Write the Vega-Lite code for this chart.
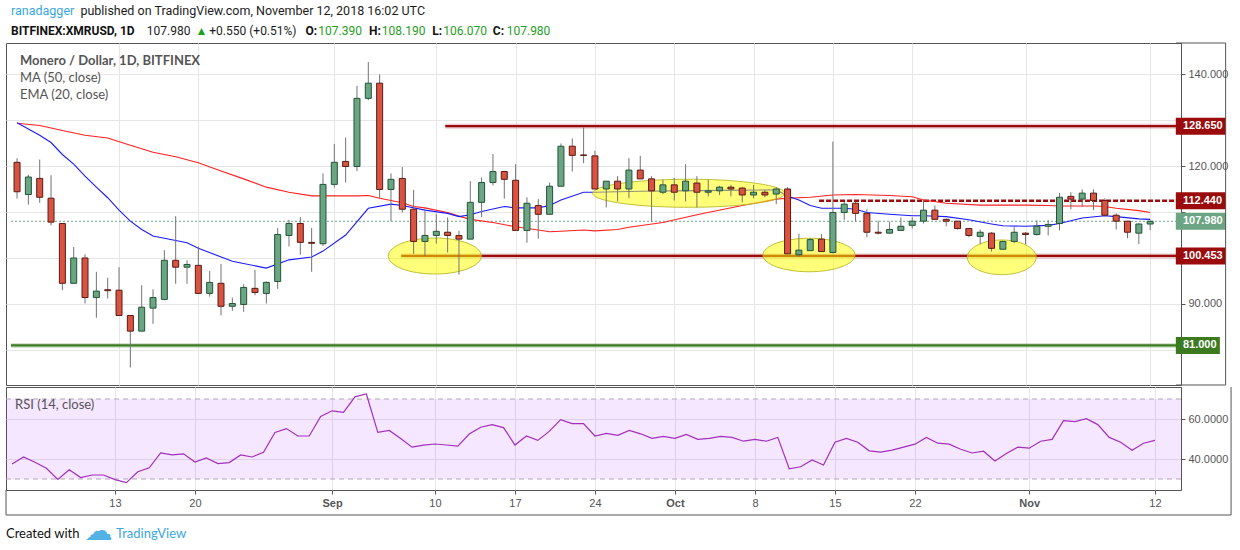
{
  "$schema": "https://vega.github.io/schema/vega-lite/v6.json",
  "background": "white",
  "padding": {"left": 5, "top": 4, "right": 0, "bottom": 0},
  "spacing": 0,
  "config": {
    "view": {"stroke": "#555555", "strokeWidth": 1},
    "axis": {"labelFont": "Liberation Sans", "labelFontSize": 11, "labelColor": "#555555", "tickColor": "#555555", "domainColor": "#555555", "gridColor": "#e6e6e6"},
    "text": {"font": "Lato"}
  },
  "datasets": {
    "candles": [
      {"d": "2018-08-04", "o": 120.8, "h": 121.7, "l": 112.9, "c": 114.4, "r": 37.5},
      {"d": "2018-08-05", "o": 113.8, "h": 118.1, "l": 111.6, "c": 117.6, "r": 41.0},
      {"d": "2018-08-06", "o": 117.3, "h": 121.4, "l": 112.0, "c": 113.2, "r": 38.4},
      {"d": "2018-08-07", "o": 113.0, "h": 118.0, "l": 107.1, "c": 107.8, "r": 35.4},
      {"d": "2018-08-08", "o": 107.5, "h": 107.5, "l": 93.0, "c": 94.5, "r": 29.8},
      {"d": "2018-08-09", "o": 94.5, "h": 102.4, "l": 94.5, "c": 100.0, "r": 34.6},
      {"d": "2018-08-10", "o": 100.0, "h": 100.8, "l": 90.1, "c": 91.4, "r": 30.7},
      {"d": "2018-08-11", "o": 91.4, "h": 97.0, "l": 87.0, "c": 92.8, "r": 32.0},
      {"d": "2018-08-12", "o": 93.1, "h": 95.7, "l": 91.2, "c": 92.9, "r": 32.0},
      {"d": "2018-08-13", "o": 93.0, "h": 98.0, "l": 87.5, "c": 87.5, "r": 29.7},
      {"d": "2018-08-14", "o": 87.5, "h": 87.5, "l": 76.2, "c": 84.1, "r": 28.2},
      {"d": "2018-08-15", "o": 84.1, "h": 94.1, "l": 84.1, "c": 89.3, "r": 33.6},
      {"d": "2018-08-16", "o": 89.1, "h": 93.2, "l": 85.7, "c": 91.4, "r": 35.6},
      {"d": "2018-08-17", "o": 91.0, "h": 101.7, "l": 90.8, "c": 99.5, "r": 43.1},
      {"d": "2018-08-18", "o": 99.5, "h": 109.1, "l": 94.4, "c": 98.0, "r": 42.1},
      {"d": "2018-08-19", "o": 98.0, "h": 99.5, "l": 94.4, "c": 98.6, "r": 42.6},
      {"d": "2018-08-20", "o": 98.4, "h": 102.5, "l": 92.3, "c": 92.3, "r": 38.5},
      {"d": "2018-08-21", "o": 92.3, "h": 97.2, "l": 91.6, "c": 94.7, "r": 40.5},
      {"d": "2018-08-22", "o": 94.5, "h": 98.7, "l": 87.5, "c": 89.5, "r": 37.7},
      {"d": "2018-08-23", "o": 89.5, "h": 91.4, "l": 88.5, "c": 90.1, "r": 38.2},
      {"d": "2018-08-24", "o": 89.9, "h": 94.3, "l": 88.3, "c": 93.6, "r": 42.0},
      {"d": "2018-08-25", "o": 93.4, "h": 97.4, "l": 91.9, "c": 92.5, "r": 41.0},
      {"d": "2018-08-26", "o": 92.3, "h": 94.9, "l": 90.1, "c": 94.7, "r": 43.4},
      {"d": "2018-08-27", "o": 94.9, "h": 106.5, "l": 93.3, "c": 105.1, "r": 53.3},
      {"d": "2018-08-28", "o": 104.9, "h": 108.3, "l": 102.5, "c": 107.5, "r": 55.2},
      {"d": "2018-08-29", "o": 107.5, "h": 108.9, "l": 100.7, "c": 103.4, "r": 51.5},
      {"d": "2018-08-30", "o": 103.4, "h": 106.5, "l": 97.0, "c": 103.2, "r": 51.5},
      {"d": "2018-08-31", "o": 103.1, "h": 118.4, "l": 102.6, "c": 116.0, "r": 61.3},
      {"d": "2018-09-01", "o": 116.0, "h": 124.8, "l": 115.3, "c": 120.8, "r": 64.1},
      {"d": "2018-09-02", "o": 121.0, "h": 126.2, "l": 116.4, "c": 119.9, "r": 63.3},
      {"d": "2018-09-03", "o": 119.9, "h": 137.4, "l": 118.9, "c": 134.7, "r": 71.1},
      {"d": "2018-09-04", "o": 134.7, "h": 142.6, "l": 134.3, "c": 138.0, "r": 72.5},
      {"d": "2018-09-05", "o": 138.0, "h": 139.9, "l": 113.0, "c": 114.9, "r": 53.3},
      {"d": "2018-09-06", "o": 114.9, "h": 118.4, "l": 108.0, "c": 117.1, "r": 54.3},
      {"d": "2018-09-07", "o": 117.3, "h": 119.8, "l": 109.9, "c": 110.6, "r": 50.2},
      {"d": "2018-09-08", "o": 110.6, "h": 114.8, "l": 100.9, "c": 103.6, "r": 45.9},
      {"d": "2018-09-09", "o": 103.6, "h": 110.8, "l": 100.4, "c": 104.9, "r": 46.9},
      {"d": "2018-09-10", "o": 104.9, "h": 109.6, "l": 103.1, "c": 105.8, "r": 47.5},
      {"d": "2018-09-11", "o": 105.6, "h": 108.8, "l": 101.2, "c": 104.9, "r": 47.0},
      {"d": "2018-09-12", "o": 104.9, "h": 105.9, "l": 96.4, "c": 104.1, "r": 46.4},
      {"d": "2018-09-13", "o": 104.1, "h": 116.7, "l": 104.1, "c": 112.1, "r": 52.5},
      {"d": "2018-09-14", "o": 112.1, "h": 117.5, "l": 108.9, "c": 116.4, "r": 55.9},
      {"d": "2018-09-15", "o": 116.4, "h": 122.6, "l": 115.8, "c": 118.8, "r": 57.2},
      {"d": "2018-09-16", "o": 118.8, "h": 118.8, "l": 112.9, "c": 117.1, "r": 55.7},
      {"d": "2018-09-17", "o": 116.9, "h": 120.4, "l": 106.0, "c": 106.0, "r": 47.0},
      {"d": "2018-09-18", "o": 106.0, "h": 113.2, "l": 103.3, "c": 111.9, "r": 51.5},
      {"d": "2018-09-19", "o": 111.4, "h": 112.8, "l": 104.2, "c": 109.5, "r": 49.3},
      {"d": "2018-09-20", "o": 109.5, "h": 116.4, "l": 109.5, "c": 115.6, "r": 53.8},
      {"d": "2018-09-21", "o": 115.6, "h": 124.9, "l": 115.6, "c": 124.3, "r": 59.7},
      {"d": "2018-09-22", "o": 124.3, "h": 126.0, "l": 118.8, "c": 122.3, "r": 57.7},
      {"d": "2018-09-23", "o": 122.4, "h": 128.4, "l": 120.6, "c": 122.3, "r": 57.7},
      {"d": "2018-09-24", "o": 122.2, "h": 123.3, "l": 115.0, "c": 115.0, "r": 51.5},
      {"d": "2018-09-25", "o": 115.0, "h": 116.7, "l": 111.0, "c": 116.7, "r": 52.8},
      {"d": "2018-09-26", "o": 116.7, "h": 117.8, "l": 112.3, "c": 115.0, "r": 51.8},
      {"d": "2018-09-27", "o": 115.0, "h": 121.7, "l": 113.0, "c": 119.1, "r": 54.3},
      {"d": "2018-09-28", "o": 119.1, "h": 122.2, "l": 117.2, "c": 117.2, "r": 52.6},
      {"d": "2018-09-29", "o": 117.2, "h": 117.8, "l": 108.0, "c": 114.6, "r": 50.3},
      {"d": "2018-09-30", "o": 114.3, "h": 117.0, "l": 113.9, "c": 115.9, "r": 51.3},
      {"d": "2018-10-01", "o": 115.9, "h": 117.4, "l": 112.5, "c": 114.3, "r": 50.3},
      {"d": "2018-10-02", "o": 114.6, "h": 120.4, "l": 112.3, "c": 116.7, "r": 52.3},
      {"d": "2018-10-03", "o": 116.3, "h": 117.8, "l": 111.0, "c": 114.3, "r": 49.8},
      {"d": "2018-10-04", "o": 114.3, "h": 117.0, "l": 113.4, "c": 114.6, "r": 50.3},
      {"d": "2018-10-05", "o": 114.6, "h": 115.7, "l": 113.7, "c": 115.4, "r": 51.3},
      {"d": "2018-10-06", "o": 115.4, "h": 115.9, "l": 113.4, "c": 115.0, "r": 50.8},
      {"d": "2018-10-07", "o": 115.2, "h": 115.4, "l": 112.1, "c": 113.7, "r": 48.9},
      {"d": "2018-10-08", "o": 113.7, "h": 115.9, "l": 113.0, "c": 114.3, "r": 49.8},
      {"d": "2018-10-09", "o": 114.3, "h": 114.8, "l": 113.2, "c": 113.7, "r": 48.9},
      {"d": "2018-10-10", "o": 113.9, "h": 115.4, "l": 111.7, "c": 115.0, "r": 50.8},
      {"d": "2018-10-11", "o": 115.0, "h": 115.4, "l": 100.9, "c": 100.9, "r": 35.1},
      {"d": "2018-10-12", "o": 100.7, "h": 105.3, "l": 100.2, "c": 101.7, "r": 36.1},
      {"d": "2018-10-13", "o": 101.6, "h": 104.3, "l": 101.5, "c": 104.0, "r": 39.5},
      {"d": "2018-10-14", "o": 104.1, "h": 105.2, "l": 101.4, "c": 101.4, "r": 37.0},
      {"d": "2018-10-15", "o": 101.2, "h": 125.3, "l": 101.0, "c": 109.9, "r": 48.4},
      {"d": "2018-10-16", "o": 109.9, "h": 112.2, "l": 108.3, "c": 111.7, "r": 50.3},
      {"d": "2018-10-17", "o": 111.9, "h": 112.2, "l": 107.9, "c": 109.7, "r": 48.4},
      {"d": "2018-10-18", "o": 109.7, "h": 110.6, "l": 104.5, "c": 105.6, "r": 44.1},
      {"d": "2018-10-19", "o": 105.6, "h": 108.1, "l": 105.1, "c": 105.4, "r": 43.4},
      {"d": "2018-10-20", "o": 105.4, "h": 107.9, "l": 105.4, "c": 106.2, "r": 44.4},
      {"d": "2018-10-21", "o": 106.0, "h": 108.8, "l": 106.0, "c": 106.9, "r": 45.9},
      {"d": "2018-10-22", "o": 107.1, "h": 108.8, "l": 106.4, "c": 108.0, "r": 47.4},
      {"d": "2018-10-23", "o": 108.0, "h": 112.7, "l": 107.5, "c": 110.4, "r": 50.8},
      {"d": "2018-10-24", "o": 110.4, "h": 111.4, "l": 108.4, "c": 108.4, "r": 47.9},
      {"d": "2018-10-25", "o": 108.4, "h": 108.6, "l": 106.9, "c": 108.0, "r": 47.4},
      {"d": "2018-10-26", "o": 108.0, "h": 108.0, "l": 106.2, "c": 106.4, "r": 44.9},
      {"d": "2018-10-27", "o": 106.4, "h": 106.4, "l": 104.5, "c": 104.9, "r": 43.0},
      {"d": "2018-10-28", "o": 104.7, "h": 106.2, "l": 103.0, "c": 105.6, "r": 43.9},
      {"d": "2018-10-29", "o": 105.4, "h": 105.6, "l": 101.4, "c": 102.1, "r": 39.0},
      {"d": "2018-10-30", "o": 101.9, "h": 103.8, "l": 101.9, "c": 103.6, "r": 42.8},
      {"d": "2018-10-31", "o": 103.6, "h": 106.7, "l": 103.2, "c": 105.6, "r": 45.9},
      {"d": "2018-11-01", "o": 105.4, "h": 105.6, "l": 103.0, "c": 105.1, "r": 45.4},
      {"d": "2018-11-02", "o": 105.1, "h": 108.2, "l": 104.9, "c": 106.9, "r": 48.9},
      {"d": "2018-11-03", "o": 106.9, "h": 108.2, "l": 104.9, "c": 107.3, "r": 49.8},
      {"d": "2018-11-04", "o": 107.5, "h": 114.1, "l": 106.0, "c": 113.2, "r": 59.2},
      {"d": "2018-11-05", "o": 113.4, "h": 114.3, "l": 110.6, "c": 112.8, "r": 58.7},
      {"d": "2018-11-06", "o": 112.8, "h": 114.9, "l": 111.2, "c": 114.1, "r": 60.2},
      {"d": "2018-11-07", "o": 114.1, "h": 114.9, "l": 110.4, "c": 112.5, "r": 57.2},
      {"d": "2018-11-08", "o": 112.5, "h": 113.0, "l": 109.3, "c": 109.3, "r": 50.8},
      {"d": "2018-11-09", "o": 109.3, "h": 109.7, "l": 106.2, "c": 108.0, "r": 48.4},
      {"d": "2018-11-10", "o": 108.0, "h": 108.0, "l": 104.3, "c": 105.6, "r": 44.4},
      {"d": "2018-11-11", "o": 105.4, "h": 107.5, "l": 103.0, "c": 107.39, "r": 47.9},
      {"d": "2018-11-12", "o": 107.39, "h": 108.19, "l": 106.07, "c": 107.98, "r": 49.3}
    ],
    "ma": [
      {"d": "2018-08-04", "v": 129.3}, {"d": "2018-08-06", "v": 128.8}, {"d": "2018-08-08", "v": 127.7},
      {"d": "2018-08-10", "v": 126.7}, {"d": "2018-08-12", "v": 126.1}, {"d": "2018-08-14", "v": 124.5},
      {"d": "2018-08-16", "v": 123.0}, {"d": "2018-08-18", "v": 122.0}, {"d": "2018-08-20", "v": 120.7},
      {"d": "2018-08-22", "v": 118.9}, {"d": "2018-08-24", "v": 117.2}, {"d": "2018-08-26", "v": 115.4},
      {"d": "2018-08-28", "v": 114.3}, {"d": "2018-08-30", "v": 113.5}, {"d": "2018-09-01", "v": 113.5},
      {"d": "2018-09-03", "v": 113.5}, {"d": "2018-09-04", "v": 113.6}, {"d": "2018-09-05", "v": 113.0},
      {"d": "2018-09-06", "v": 112.5}, {"d": "2018-09-07", "v": 112.0}, {"d": "2018-09-08", "v": 111.2},
      {"d": "2018-09-09", "v": 110.9}, {"d": "2018-09-11", "v": 109.9}, {"d": "2018-09-12", "v": 109.1},
      {"d": "2018-09-13", "v": 108.4}, {"d": "2018-09-15", "v": 107.7}, {"d": "2018-09-17", "v": 106.8},
      {"d": "2018-09-19", "v": 106.1}, {"d": "2018-09-20", "v": 105.7}, {"d": "2018-09-21", "v": 105.8},
      {"d": "2018-09-23", "v": 106.1}, {"d": "2018-09-24", "v": 105.9}, {"d": "2018-09-26", "v": 106.2},
      {"d": "2018-09-27", "v": 106.7}, {"d": "2018-09-30", "v": 107.7}, {"d": "2018-10-03", "v": 109.4},
      {"d": "2018-10-07", "v": 111.4}, {"d": "2018-10-10", "v": 112.8}, {"d": "2018-10-11", "v": 113.0},
      {"d": "2018-10-13", "v": 113.2}, {"d": "2018-10-15", "v": 113.7}, {"d": "2018-10-17", "v": 113.8},
      {"d": "2018-10-20", "v": 113.6}, {"d": "2018-10-22", "v": 113.3}, {"d": "2018-10-23", "v": 112.6},
      {"d": "2018-10-25", "v": 111.9}, {"d": "2018-10-28", "v": 111.5}, {"d": "2018-11-01", "v": 111.5},
      {"d": "2018-11-03", "v": 111.4}, {"d": "2018-11-04", "v": 111.3}, {"d": "2018-11-07", "v": 111.3},
      {"d": "2018-11-08", "v": 111.2}, {"d": "2018-11-09", "v": 110.8}, {"d": "2018-11-11", "v": 110.3},
      {"d": "2018-11-12", "v": 109.9}
    ],
    "ema": [
      {"d": "2018-08-04", "v": 129.4}, {"d": "2018-08-06", "v": 126.7}, {"d": "2018-08-07", "v": 125.1},
      {"d": "2018-08-08", "v": 122.5}, {"d": "2018-08-09", "v": 120.4}, {"d": "2018-08-10", "v": 117.8},
      {"d": "2018-08-11", "v": 115.4}, {"d": "2018-08-12", "v": 113.1}, {"d": "2018-08-13", "v": 110.4},
      {"d": "2018-08-14", "v": 108.0}, {"d": "2018-08-15", "v": 106.2}, {"d": "2018-08-16", "v": 104.8},
      {"d": "2018-08-17", "v": 104.3}, {"d": "2018-08-18", "v": 103.8}, {"d": "2018-08-19", "v": 103.3},
      {"d": "2018-08-20", "v": 102.1}, {"d": "2018-08-23", "v": 99.3}, {"d": "2018-08-26", "v": 97.8},
      {"d": "2018-08-28", "v": 99.6}, {"d": "2018-08-30", "v": 100.2}, {"d": "2018-08-31", "v": 101.5},
      {"d": "2018-09-02", "v": 105.0}, {"d": "2018-09-04", "v": 110.8}, {"d": "2018-09-06", "v": 111.7},
      {"d": "2018-09-07", "v": 111.4}, {"d": "2018-09-09", "v": 110.4}, {"d": "2018-09-11", "v": 109.7},
      {"d": "2018-09-12", "v": 109.0}, {"d": "2018-09-13", "v": 109.4}, {"d": "2018-09-14", "v": 110.1},
      {"d": "2018-09-16", "v": 111.2}, {"d": "2018-09-17", "v": 110.9}, {"d": "2018-09-19", "v": 110.9},
      {"d": "2018-09-20", "v": 111.4}, {"d": "2018-09-21", "v": 112.6}, {"d": "2018-09-23", "v": 114.3},
      {"d": "2018-09-24", "v": 114.3}, {"d": "2018-09-28", "v": 114.5}, {"d": "2018-10-01", "v": 114.6},
      {"d": "2018-10-05", "v": 114.7}, {"d": "2018-10-10", "v": 114.8}, {"d": "2018-10-11", "v": 113.5},
      {"d": "2018-10-12", "v": 112.6}, {"d": "2018-10-13", "v": 111.4}, {"d": "2018-10-14", "v": 110.8},
      {"d": "2018-10-16", "v": 110.8}, {"d": "2018-10-17", "v": 110.6}, {"d": "2018-10-18", "v": 109.9},
      {"d": "2018-10-20", "v": 109.5}, {"d": "2018-10-22", "v": 109.2}, {"d": "2018-10-23", "v": 109.2},
      {"d": "2018-10-25", "v": 109.0}, {"d": "2018-10-27", "v": 108.3}, {"d": "2018-10-29", "v": 107.4},
      {"d": "2018-10-30", "v": 107.0}, {"d": "2018-11-01", "v": 106.9}, {"d": "2018-11-03", "v": 107.1},
      {"d": "2018-11-04", "v": 107.5}, {"d": "2018-11-06", "v": 108.7}, {"d": "2018-11-08", "v": 109.2},
      {"d": "2018-11-09", "v": 109.0}, {"d": "2018-11-11", "v": 108.5}, {"d": "2018-11-12", "v": 108.4}
    ],
    "levels": [
      {"p": 128.65, "k": "r", "from": "2018-09-10T19:00:00Z", "bx": "2018-11-16T11:16:00Z", "tx": "2018-11-14T21:25:00Z"},
      {"p": 112.44, "k": "rd", "from": "2018-10-13T18:43:00Z", "bx": "2018-11-16T11:16:00Z", "tx": "2018-11-14T21:25:00Z"},
      {"p": 107.98, "k": "cur", "from": "2018-08-03T11:12:00Z", "bx": "2018-11-16T11:16:00Z", "tx": "2018-11-14T21:25:00Z"},
      {"p": 100.453, "k": "r", "from": "2018-09-06T21:40:00Z", "bx": "2018-11-16T11:16:00Z", "tx": "2018-11-14T21:25:00Z"},
      {"p": 81.0, "k": "g", "from": "2018-08-03T11:12:00Z", "bx": "2018-11-16T05:00:00Z", "tx": "2018-11-14T21:25:00Z"}
    ],
    "zones": [
      {"d": "2018-09-09T20:53:00Z", "p": 100.43, "z": "a"},
      {"d": "2018-10-02T06:30:00Z", "p": 114.07, "z": "b"},
      {"d": "2018-10-12T21:20:00Z", "p": 100.65, "z": "c"},
      {"d": "2018-10-29T21:40:00Z", "p": 100.15, "z": "d"}
    ],
    "notes": [
      {"d": "2018-08-03T11:12:00Z", "p": 153.6, "t": "ranadagger", "s": "link"},
      {"d": "2018-08-09T14:11:00Z", "p": 153.6, "t": "published on TradingView.com, November 12, 2018 16:02 UTC", "s": "dark1"},
      {"d": "2018-08-03T11:12:00Z", "p": 149.35, "t": "BITFINEX:XMRUSD, 1D", "s": "darkb"},
      {"d": "2018-08-15T10:54:00Z", "p": 149.35, "t": "107.980", "s": "dark"},
      {"d": "2018-08-19T17:47:00Z", "p": 149.35, "t": "▲", "s": "up"},
      {"d": "2018-08-20T23:11:00Z", "p": 149.35, "t": "+0.550 (+0.51%)", "s": "dark"},
      {"d": "2018-08-29T10:52:00Z", "p": 149.35, "t": "O:", "s": "darkb"},
      {"d": "2018-08-30T14:11:00Z", "p": 149.35, "t": "107.390", "s": "up"},
      {"d": "2018-09-04T01:16:00Z", "p": 149.35, "t": "H:", "s": "darkb"},
      {"d": "2018-09-05T04:34:00Z", "p": 149.35, "t": "108.190", "s": "up"},
      {"d": "2018-09-09T15:40:00Z", "p": 149.35, "t": "L:", "s": "darkb"},
      {"d": "2018-09-10T14:47:00Z", "p": 149.35, "t": "106.070", "s": "up"},
      {"d": "2018-09-14T23:47:00Z", "p": 149.35, "t": "C:", "s": "darkb"},
      {"d": "2018-09-16T05:11:00Z", "p": 149.35, "t": "107.980", "s": "up"},
      {"d": "2018-08-04T06:05:00Z", "p": 142.83, "t": "Monero / Dollar, 1D, BITFINEX", "s": "legb"},
      {"d": "2018-08-04T06:05:00Z", "p": 139.2, "t": "MA (50, close)", "s": "leg"},
      {"d": "2018-08-04T06:05:00Z", "p": 135.43, "t": "EMA (20, close)", "s": "leg"}
    ],
    "rsinotes": [
      {"d": "2018-08-04T06:05:00Z", "p": 67, "t": "RSI (14, close)", "s": "leg"},
      {"d": "2018-08-03T11:12:00Z", "p": 2.5, "t": "Created with", "s": "foot"},
      {"d": "2018-08-11T13:26:00Z", "p": 2.5, "t": "☁", "s": "icon"},
      {"d": "2018-08-13T02:10:00Z", "p": 2.5, "t": "TradingView", "s": "footl"}
    ],
    "mframe_h": [
      {"a": "2018-11-14T06:43:00Z", "b": "2018-11-18T15:50:00Z", "p": 146.74},
      {"a": "2018-11-14T06:43:00Z", "b": "2018-11-18T15:50:00Z", "p": 72.39}
    ],
    "mframe_v": [
      {"d": "2018-11-18T15:50:00Z", "p": 146.74, "p2": 72.39}
    ],
    "rframe_h": [
      {"a": "2018-08-03T11:12:00Z", "b": "2018-11-18T15:50:00Z", "p": 12}
    ],
    "rframe_v": [
      {"d": "2018-11-18T15:50:00Z", "p": 76, "p2": 12},
      {"d": "2018-08-03T11:12:00Z", "p": 24.5, "p2": 12}
    ]
  },
  "vconcat": [
    {
      "width": 1175,
      "height": 342,
      "data": {"name": "candles"},
      "encoding": {
        "x": {
          "field": "d", "type": "temporal", "title": null,
          "scale": {"type": "utc", "domain": [
            {"year": 2018, "month": 8, "date": 3, "hours": 11, "minutes": 12, "utc": true},
            {"year": 2018, "month": 11, "date": 14, "hours": 6, "minutes": 43, "utc": true}
          ]},
          "axis": {
            "values": [
              {"year": 2018, "month": 8, "date": 13, "utc": true}, {"year": 2018, "month": 8, "date": 20, "utc": true},
              {"year": 2018, "month": 9, "date": 1, "utc": true}, {"year": 2018, "month": 9, "date": 10, "utc": true},
              {"year": 2018, "month": 9, "date": 17, "utc": true}, {"year": 2018, "month": 9, "date": 24, "utc": true},
              {"year": 2018, "month": 10, "date": 1, "utc": true}, {"year": 2018, "month": 10, "date": 8, "utc": true},
              {"year": 2018, "month": 10, "date": 15, "utc": true}, {"year": 2018, "month": 10, "date": 22, "utc": true},
              {"year": 2018, "month": 11, "date": 1, "utc": true}, {"year": 2018, "month": 11, "date": 12, "utc": true}
            ],
            "labels": false, "ticks": false, "domain": false, "grid": true, "zindex": 0
          }
        },
        "y": {
          "field": "o", "type": "quantitative", "title": null,
          "scale": {"domain": [72.39, 146.74], "nice": false, "zero": false},
          "axis": {
            "orient": "right", "values": [80, 90, 100, 110, 120, 130, 140], "format": ".3f",
            "labelExpr": "datum.value == 80 || datum.value == 100 || datum.value == 110 || datum.value == 130 ? '' : datum.label",
            "grid": true, "tickSize": 4, "labelPadding": 3, "zindex": 0
          }
        }
      },
      "layer": [
        {
          "data": {"name": "levels"},
          "transform": [{"filter": "datum.k == 'r' || datum.k == 'g'"}],
          "mark": {"type": "rule", "strokeWidth": 5, "opacity": 0.22},
          "encoding": {
            "x": {"field": "from", "type": "temporal"},
            "x2": {"datum": {"year": 2018, "month": 11, "date": 14, "hours": 6, "minutes": 43, "utc": true}},
            "y": {"field": "p", "type": "quantitative"},
            "color": {"field": "k", "type": "nominal", "legend": null, "scale": {"domain": ["r", "g", "rd", "cur"], "range": ["#9c0b0b", "#3b7a1f", "#9c0b0b", "#6ba583"]}}
          }
        },
        {
          "data": {"name": "levels"},
          "transform": [{"filter": "datum.k == 'r' || datum.k == 'g'"}],
          "mark": {"type": "rule", "strokeWidth": 2.2},
          "encoding": {
            "x": {"field": "from", "type": "temporal"},
            "x2": {"datum": {"year": 2018, "month": 11, "date": 14, "hours": 6, "minutes": 43, "utc": true}},
            "y": {"field": "p", "type": "quantitative"},
            "color": {"field": "k", "type": "nominal", "legend": null}
          }
        },
        {
          "data": {"name": "levels"},
          "transform": [{"filter": "datum.k == 'rd'"}],
          "mark": {"type": "rule", "strokeWidth": 2.6, "strokeDash": [5, 2]},
          "encoding": {
            "x": {"field": "from", "type": "temporal"},
            "x2": {"datum": {"year": 2018, "month": 11, "date": 14, "hours": 6, "minutes": 43, "utc": true}},
            "y": {"field": "p", "type": "quantitative"},
            "color": {"field": "k", "type": "nominal", "legend": null}
          }
        },
        {
          "data": {"name": "levels"},
          "transform": [{"filter": "datum.k == 'cur'"}],
          "mark": {"type": "rule", "strokeWidth": 1, "strokeDash": [2, 2]},
          "encoding": {
            "x": {"field": "from", "type": "temporal"},
            "x2": {"datum": {"year": 2018, "month": 11, "date": 14, "hours": 6, "minutes": 43, "utc": true}},
            "y": {"field": "p", "type": "quantitative"},
            "color": {"field": "k", "type": "nominal", "legend": null}
          }
        },
        {
          "data": {"name": "ma"},
          "mark": {"type": "line", "color": "#ff2020", "strokeWidth": 1.1},
          "encoding": {"y": {"field": "v", "type": "quantitative"}}
        },
        {
          "data": {"name": "ema"},
          "mark": {"type": "line", "color": "#1a1aff", "strokeWidth": 1.1},
          "encoding": {"y": {"field": "v", "type": "quantitative"}}
        },
        {
          "data": {"name": "zones"},
          "transform": [{"filter": "datum.z == 'a'"}],
          "mark": {"type": "point", "filled": true, "opacity": 1, "fill": "#ffff00", "fillOpacity": 0.52, "stroke": "#b8b82a", "strokeWidth": 1, "strokeOpacity": 0.9, "size": 8649,
            "shape": "M-1,0C-1,-0.214,-0.552,-0.387,0,-0.387C0.552,-0.387,1,-0.214,1,0C1,0.214,0.552,0.387,0,0.387C-0.552,0.387,-1,0.214,-1,0Z"},
          "encoding": {"y": {"field": "p", "type": "quantitative"}}
        },
        {
          "data": {"name": "zones"},
          "transform": [{"filter": "datum.z == 'b'"}],
          "mark": {"type": "point", "filled": true, "opacity": 1, "fill": "#ffff00", "fillOpacity": 0.52, "stroke": "#b8b82a", "strokeWidth": 1, "strokeOpacity": 0.9, "size": 36864,
            "shape": "M-1,0C-1,-0.081,-0.552,-0.146,0,-0.146C0.552,-0.146,1,-0.081,1,0C1,0.081,0.552,0.146,0,0.146C-0.552,0.146,-1,0.081,-1,0Z"},
          "encoding": {"y": {"field": "p", "type": "quantitative"}}
        },
        {
          "data": {"name": "zones"},
          "transform": [{"filter": "datum.z == 'c'"}],
          "mark": {"type": "point", "filled": true, "opacity": 1, "fill": "#ffff00", "fillOpacity": 0.52, "stroke": "#b8b82a", "strokeWidth": 1, "strokeOpacity": 0.9, "size": 8464,
            "shape": "M-1,0C-1,-0.201,-0.552,-0.364,0,-0.364C0.552,-0.364,1,-0.201,1,0C1,0.201,0.552,0.364,0,0.364C-0.552,0.364,-1,0.201,-1,0Z"},
          "encoding": {"y": {"field": "p", "type": "quantitative"}}
        },
        {
          "data": {"name": "zones"},
          "transform": [{"filter": "datum.z == 'd'"}],
          "mark": {"type": "point", "filled": true, "opacity": 1, "fill": "#ffff00", "fillOpacity": 0.52, "stroke": "#b8b82a", "strokeWidth": 1, "strokeOpacity": 0.9, "size": 4720,
            "shape": "M-1,0C-1,-0.279,-0.552,-0.505,0,-0.505C0.552,-0.505,1,-0.279,1,0C1,0.279,0.552,0.505,0,0.505C-0.552,0.505,-1,0.279,-1,0Z"},
          "encoding": {"y": {"field": "p", "type": "quantitative"}}
        },
        {
          "mark": {"type": "rule", "color": "#737375", "strokeWidth": 1},
          "encoding": {"y": {"field": "l", "type": "quantitative"}, "y2": {"field": "h"}}
        },
        {
          "mark": {"type": "bar", "size": 6, "strokeWidth": 1},
          "encoding": {
            "y2": {"field": "c"},
            "fill": {"condition": {"test": "datum.c >= datum.o", "value": "#6ba583"}, "value": "#d75442"},
            "stroke": {"condition": {"test": "datum.c >= datum.o", "value": "#225437"}, "value": "#5b1a13"}
          }
        },
        {
          "data": {"name": "levels"},
          "transform": [{"filter": "datum.k != 'g'"}],
          "mark": {"type": "point", "filled": true, "opacity": 1, "strokeWidth": 0, "shape": "M-1,-0.34H1V0.34H-1Z", "size": 2500},
          "encoding": {
            "x": {"field": "bx", "type": "temporal"},
            "y": {"field": "p", "type": "quantitative"},
            "color": {"field": "k", "type": "nominal", "legend": null}
          }
        },
        {
          "data": {"name": "levels"},
          "transform": [{"filter": "datum.k == 'g'"}],
          "mark": {"type": "point", "filled": true, "opacity": 1, "strokeWidth": 0, "shape": "M-1,-0.386H1V0.386H-1Z", "size": 1936},
          "encoding": {
            "x": {"field": "bx", "type": "temporal"},
            "y": {"field": "p", "type": "quantitative"},
            "color": {"field": "k", "type": "nominal", "legend": null}
          }
        },
        {
          "data": {"name": "levels"},
          "mark": {"type": "text", "align": "left", "baseline": "middle", "font": "Liberation Sans", "fontSize": 11, "fontWeight": "bold", "color": "white"},
          "encoding": {
            "x": {"field": "tx", "type": "temporal"},
            "y": {"field": "p", "type": "quantitative"},
            "text": {"field": "p", "type": "quantitative", "format": ".3f"}
          }
        },
        {
          "data": {"name": "mframe_h"},
          "mark": {"type": "rule", "color": "#555555", "strokeWidth": 1},
          "encoding": {"x": {"field": "a", "type": "temporal"}, "x2": {"field": "b"}, "y": {"field": "p", "type": "quantitative"}}
        },
        {
          "data": {"name": "mframe_v"},
          "mark": {"type": "rule", "color": "#555555", "strokeWidth": 1},
          "encoding": {"y": {"field": "p", "type": "quantitative"}, "y2": {"field": "p2"}}
        },
        {
          "data": {"name": "notes"},
          "transform": [{"filter": "datum.s == 'link'"}],
          "mark": {"type": "text", "align": "left", "baseline": "middle", "font": "Roboto", "fontSize": 12.5, "color": "#37a7df"},
          "encoding": {"y": {"field": "p", "type": "quantitative"}, "text": {"field": "t"}}
        },
        {
          "data": {"name": "notes"},
          "transform": [{"filter": "datum.s == 'dark1'"}],
          "mark": {"type": "text", "align": "left", "baseline": "middle", "font": "Roboto", "fontSize": 12.5, "color": "#1c1c1c"},
          "encoding": {"y": {"field": "p", "type": "quantitative"}, "text": {"field": "t"}}
        },
        {
          "data": {"name": "notes"},
          "transform": [{"filter": "datum.s == 'dark'"}],
          "mark": {"type": "text", "align": "left", "baseline": "middle", "font": "Roboto", "fontSize": 12, "color": "#1c1c1c"},
          "encoding": {"y": {"field": "p", "type": "quantitative"}, "text": {"field": "t"}}
        },
        {
          "data": {"name": "notes"},
          "transform": [{"filter": "datum.s == 'darkb'"}],
          "mark": {"type": "text", "align": "left", "baseline": "middle", "font": "Roboto", "fontSize": 12, "fontWeight": "bold", "color": "#111111"},
          "encoding": {"y": {"field": "p", "type": "quantitative"}, "text": {"field": "t"}}
        },
        {
          "data": {"name": "notes"},
          "transform": [{"filter": "datum.s == 'up'"}],
          "mark": {"type": "text", "align": "left", "baseline": "middle", "font": "Roboto", "fontSize": 12, "color": "#1ea01e"},
          "encoding": {"y": {"field": "p", "type": "quantitative"}, "text": {"field": "t"}}
        },
        {
          "data": {"name": "notes"},
          "transform": [{"filter": "datum.s == 'legb'"}],
          "mark": {"type": "text", "align": "left", "baseline": "middle", "fontSize": 13, "fontWeight": "bold", "color": "#555555"},
          "encoding": {"y": {"field": "p", "type": "quantitative"}, "text": {"field": "t"}}
        },
        {
          "data": {"name": "notes"},
          "transform": [{"filter": "datum.s == 'leg'"}],
          "mark": {"type": "text", "align": "left", "baseline": "middle", "fontSize": 13, "color": "#555555"},
          "encoding": {"y": {"field": "p", "type": "quantitative"}, "text": {"field": "t"}}
        }
      ]
    },
    {
      "width": 1175,
      "height": 103,
      "data": {"name": "candles"},
      "encoding": {
        "x": {
          "field": "d", "type": "temporal", "title": null,
          "scale": {"type": "utc", "domain": [
            {"year": 2018, "month": 8, "date": 3, "hours": 11, "minutes": 12, "utc": true},
            {"year": 2018, "month": 11, "date": 14, "hours": 6, "minutes": 43, "utc": true}
          ]},
          "axis": {
            "values": [
              {"year": 2018, "month": 8, "date": 13, "utc": true}, {"year": 2018, "month": 8, "date": 20, "utc": true},
              {"year": 2018, "month": 9, "date": 1, "utc": true}, {"year": 2018, "month": 9, "date": 10, "utc": true},
              {"year": 2018, "month": 9, "date": 17, "utc": true}, {"year": 2018, "month": 9, "date": 24, "utc": true},
              {"year": 2018, "month": 10, "date": 1, "utc": true}, {"year": 2018, "month": 10, "date": 8, "utc": true},
              {"year": 2018, "month": 10, "date": 15, "utc": true}, {"year": 2018, "month": 10, "date": 22, "utc": true},
              {"year": 2018, "month": 11, "date": 1, "utc": true}, {"year": 2018, "month": 11, "date": 12, "utc": true}
            ],
            "labelExpr": "utcdate(datum.value) == 1 ? utcFormat(datum.value, '%b') : utcFormat(datum.value, '%-d')",
            "labelFontWeight": {"condition": {"test": "utcdate(datum.value) == 1", "value": "bold"}, "value": "normal"},
            "labelOverlap": false,
            "domain": false, "grid": true, "tickSize": 4, "labelPadding": 3, "zindex": 0
          }
        },
        "y": {
          "field": "r", "type": "quantitative", "title": null,
          "scale": {"domain": [24.5, 76], "nice": false, "zero": false},
          "axis": {"orient": "right", "values": [40, 60], "format": ".4f", "grid": true, "tickSize": 4, "labelPadding": 3, "zindex": 0}
        }
      },
      "layer": [
        {
          "data": {"values": [{"lo": 30, "hi": 70}]},
          "mark": {"type": "rect", "color": "#9915ff", "opacity": 0.1},
          "encoding": {"x": null, "y": {"field": "lo", "type": "quantitative"}, "y2": {"field": "hi"}}
        },
        {
          "data": {"values": [{"v": 70}, {"v": 30}]},
          "mark": {"type": "rule", "color": "#b5a4bc", "strokeWidth": 1, "strokeDash": [5, 4]},
          "encoding": {"x": null, "y": {"field": "v", "type": "quantitative"}}
        },
        {
          "mark": {"type": "line", "color": "#a22fbf", "strokeWidth": 1.2}
        },
        {
          "data": {"name": "rframe_h"},
          "mark": {"type": "rule", "color": "#555555", "strokeWidth": 1},
          "encoding": {"x": {"field": "a", "type": "temporal"}, "x2": {"field": "b"}, "y": {"field": "p", "type": "quantitative"}}
        },
        {
          "data": {"name": "rframe_v"},
          "mark": {"type": "rule", "color": "#555555", "strokeWidth": 1},
          "encoding": {"y": {"field": "p", "type": "quantitative"}, "y2": {"field": "p2"}}
        },
        {
          "data": {"name": "rsinotes"},
          "transform": [{"filter": "datum.s == 'leg'"}],
          "mark": {"type": "text", "align": "left", "baseline": "middle", "fontSize": 13, "color": "#555555"},
          "encoding": {"y": {"field": "p", "type": "quantitative"}, "text": {"field": "t"}}
        },
        {
          "data": {"name": "rsinotes"},
          "transform": [{"filter": "datum.s == 'foot'"}],
          "mark": {"type": "text", "align": "left", "baseline": "middle", "fontSize": 13, "color": "#111111"},
          "encoding": {"y": {"field": "p", "type": "quantitative"}, "text": {"field": "t"}}
        },
        {
          "data": {"name": "rsinotes"},
          "transform": [{"filter": "datum.s == 'icon'"}],
          "mark": {"type": "text", "align": "center", "baseline": "middle", "font": "DejaVu Sans", "fontSize": 28, "dy": -2, "color": "#52b2e6"},
          "encoding": {"y": {"field": "p", "type": "quantitative"}, "text": {"field": "t"}}
        },
        {
          "data": {"name": "rsinotes"},
          "transform": [{"filter": "datum.s == 'footl'"}],
          "mark": {"type": "text", "align": "left", "baseline": "middle", "fontSize": 13, "color": "#3aa7e0"},
          "encoding": {"y": {"field": "p", "type": "quantitative"}, "text": {"field": "t"}}
        }
      ]
    }
  ]
}
